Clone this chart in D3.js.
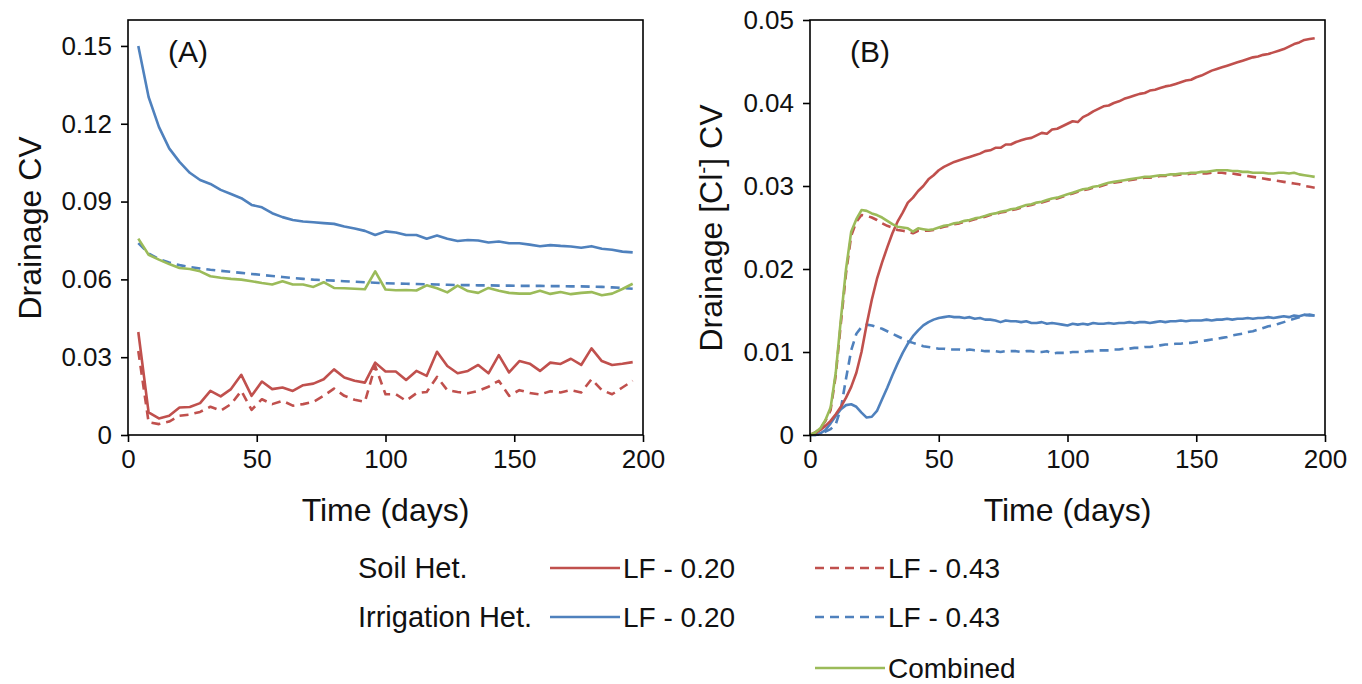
<!DOCTYPE html>
<html>
<head>
<meta charset="utf-8">
<script src="https://cdn.jsdelivr.net/npm/d3@7"></script>
<style>
  body { margin: 0; background: #fff; }
  svg { font-family: "Liberation Sans", Arial, sans-serif; }
</style>
</head>
<body>
<svg id="chart" width="1362" height="684"></svg>
<script>
// panel A: drainage CV, sampled every 4 days
const daysA = [4,8,12,16,20,24,28,32,36,40,44,48,52,56,60,64,68,72,76,80,84,88,92,96,100,
  104,108,112,116,120,124,128,132,136,140,144,148,152,156,160,164,168,172,176,180,184,188,192,196]

const soilA20 = [0.0397,0.0087,0.0064,0.0074,0.0106,0.0108,0.0123,0.0170,0.0149,0.0177,
  0.0232,0.0151,0.0206,0.0177,0.0183,0.0170,0.0192,0.0198,0.0215,0.0253,
  0.0222,0.0209,0.0202,0.0279,0.0245,0.0245,0.0212,0.0247,0.0228,0.0321,
  0.0266,0.0238,0.0247,0.0270,0.0238,0.0308,0.0241,0.0285,0.0275,0.0247,
  0.0279,0.0274,0.0294,0.0270,0.0334,0.0285,0.0270,0.0275,0.0281]
const soilA43 = [0.0324,0.0049,0.0042,0.0052,0.0074,0.0079,0.0089,0.0109,0.0094,0.0119,
  0.0170,0.0097,0.0138,0.0119,0.0132,0.0113,0.0119,0.0128,0.0151,0.0179,
  0.0151,0.0136,0.0128,0.0266,0.0157,0.0157,0.0132,0.0161,0.0166,0.0224,
  0.0173,0.0166,0.0161,0.0170,0.0186,0.0209,0.0151,0.0173,0.0162,0.0156,
  0.0169,0.0164,0.0173,0.0164,0.0215,0.0173,0.0157,0.0183,0.0209]
const irrA20 = [0.1500,0.1303,0.1188,0.1105,0.1053,0.1011,0.0983,0.0968,0.0945,0.0929,
  0.0913,0.0887,0.0878,0.0855,0.0840,0.0829,0.0823,0.0820,0.0817,0.0814,
  0.0804,0.0796,0.0787,0.0771,0.0785,0.0781,0.0771,0.0771,0.0757,0.0769,
  0.0757,0.0748,0.0752,0.0750,0.0742,0.0746,0.0739,0.0739,0.0734,0.0728,
  0.0732,0.0729,0.0727,0.0722,0.0728,0.0718,0.0714,0.0707,0.0704]
const irrA43 = [0.0740,0.0700,0.0678,0.0665,0.0655,0.0648,0.0642,0.0637,0.0633,0.0629,
  0.0625,0.0621,0.0617,0.0613,0.0609,0.0605,0.0602,0.0599,0.0597,0.0595,
  0.0593,0.0591,0.0589,0.0587,0.0585,0.0584,0.0583,0.0582,0.0581,0.0580,
  0.0579,0.0578,0.0578,0.0577,0.0577,0.0576,0.0576,0.0575,0.0575,0.0575,
  0.0574,0.0574,0.0573,0.0573,0.0572,0.0571,0.0569,0.0567,0.0564]
const combA = [0.0757,0.0695,0.0676,0.0659,0.0644,0.0640,0.0631,0.0612,0.0606,0.0602,
  0.0599,0.0593,0.0586,0.0580,0.0593,0.0580,0.0580,0.0571,0.0589,0.0567,
  0.0566,0.0564,0.0562,0.0631,0.0561,0.0558,0.0559,0.0557,0.0577,0.0566,
  0.0550,0.0576,0.0555,0.0548,0.0567,0.0556,0.0548,0.0545,0.0545,0.0556,
  0.0544,0.0551,0.0543,0.0548,0.0551,0.0539,0.0545,0.0563,0.0583]

// panel B: drainage [Cl-] CV, every 2 days
const daysB = [0,2,4,6,8,10,12,14,16,18,20,22,24,26,28,30,32,34,36,38,40,42,44,46,48,
  50,52,54,56,58,60,62,64,66,68,70,72,74,76,78,80,82,84,86,88,90,92,94,96,98,
  100,102,104,106,108,110,112,114,116,118,120,122,124,126,128,130,132,134,136,138,
  140,142,144,146,148,150,152,154,156,158,160,162,164,166,168,170,172,174,176,178,
  180,182,184,186,188,190,192,194,196]

const soilB20 = [0,0.0002,0.0006,0.0011,0.0017,0.0025,0.0034,0.0045,0.0058,0.0075,
  0.0100,0.0133,0.0163,0.0188,0.0208,0.0226,0.0243,0.0257,0.0268,0.0280,
  0.0286,0.0294,0.0300,0.0308,0.0313,0.0319,0.0323,0.0326,0.0329,0.0331,
  0.0333,0.0335,0.0337,0.0339,0.0342,0.0343,0.0346,0.0346,0.0350,0.0350,
  0.0353,0.0355,0.0357,0.0358,0.0361,0.0364,0.0363,0.0368,0.0369,0.0372,
  0.0375,0.0378,0.0377,0.0383,0.0386,0.0390,0.0393,0.0396,0.0397,0.0400,
  0.0402,0.0405,0.0407,0.0409,0.0411,0.0412,0.0415,0.0416,0.0418,0.0420,
  0.0421,0.0423,0.0425,0.0427,0.0428,0.0431,0.0433,0.0436,0.0439,0.0441,
  0.0443,0.0445,0.0447,0.0449,0.0451,0.0453,0.0455,0.0456,0.0458,0.0459,
  0.0461,0.0463,0.0465,0.0468,0.0471,0.0473,0.0476,0.0477,0.0478]
const soilB43 = [0,0.0003,0.0008,0.0017,0.0030,0.0072,0.0135,0.0195,0.0240,0.0257,
  0.0265,0.0264,0.0262,0.0259,0.0255,0.0252,0.0250,0.0247,0.0246,0.0245,
  0.0243,0.0246,0.0246,0.0246,0.0247,0.0249,0.0251,0.0252,0.0254,0.0255,
  0.0257,0.0258,0.0260,0.0261,0.0263,0.0265,0.0266,0.0268,0.0269,0.0271,
  0.0272,0.0274,0.0276,0.0277,0.0279,0.0280,0.0282,0.0284,0.0285,0.0287,
  0.0289,0.0291,0.0293,0.0295,0.0296,0.0298,0.0299,0.0301,0.0303,0.0304,
  0.0305,0.0306,0.0307,0.0308,0.0309,0.0310,0.0310,0.0311,0.0312,0.0312,
  0.0313,0.0313,0.0314,0.0314,0.0315,0.0315,0.0315,0.0315,0.0316,0.0316,
  0.0316,0.0315,0.0315,0.0314,0.0313,0.0312,0.0311,0.0310,0.0309,0.0308,
  0.0307,0.0306,0.0305,0.0304,0.0303,0.0302,0.0300,0.0299,0.0298]
const irrB20 = [0,0,0.0002,0.0006,0.0014,0.0023,0.0031,0.0036,0.0037,0.0034,
  0.0027,0.0021,0.0022,0.0029,0.0043,0.0057,0.0072,0.0086,0.0099,0.0110,
  0.0119,0.0126,0.0132,0.0136,0.0139,0.0141,0.0142,0.0143,0.0142,0.0142,
  0.0141,0.0142,0.0140,0.0141,0.0139,0.0139,0.0138,0.0136,0.0138,0.0137,
  0.0137,0.0136,0.0137,0.0135,0.0135,0.0136,0.0134,0.0135,0.0134,0.0133,
  0.0132,0.0134,0.0133,0.0134,0.0133,0.0135,0.0134,0.0134,0.0135,0.0134,
  0.0135,0.0135,0.0136,0.0135,0.0136,0.0136,0.0135,0.0136,0.0137,0.0136,
  0.0137,0.0137,0.0138,0.0137,0.0138,0.0138,0.0138,0.0139,0.0138,0.0139,
  0.0139,0.0140,0.0139,0.0140,0.0140,0.0141,0.0140,0.0141,0.0141,0.0142,
  0.0141,0.0142,0.0143,0.0142,0.0144,0.0143,0.0145,0.0144,0.0144]
const irrB43 = [0,0,0.0001,0.0004,0.0007,0.0013,0.0032,0.0068,0.0102,0.0122,
  0.0130,0.0133,0.0132,0.0130,0.0128,0.0125,0.0122,0.0119,0.0116,0.0113,
  0.0111,0.0109,0.0107,0.0106,0.0105,0.0104,0.0104,0.0103,0.0103,0.0103,
  0.0102,0.0103,0.0102,0.0102,0.0101,0.0101,0.0101,0.0100,0.0101,0.0101,
  0.0101,0.0100,0.0101,0.0101,0.0100,0.0100,0.0101,0.0098,0.0099,0.0099,
  0.0099,0.0100,0.0100,0.0100,0.0101,0.0101,0.0102,0.0102,0.0102,0.0103,
  0.0103,0.0104,0.0104,0.0105,0.0105,0.0106,0.0106,0.0107,0.0108,0.0109,
  0.0109,0.0110,0.0110,0.0111,0.0111,0.0112,0.0113,0.0114,0.0115,0.0116,
  0.0117,0.0118,0.0120,0.0121,0.0122,0.0124,0.0125,0.0127,0.0129,0.0131,
  0.0132,0.0134,0.0136,0.0138,0.0140,0.0142,0.0144,0.0145,0.0144]
const combB = [0,0.0003,0.0008,0.0018,0.0033,0.0075,0.0140,0.0200,0.0245,0.0260,
  0.0271,0.0270,0.0267,0.0265,0.0262,0.0258,0.0254,0.0251,0.0250,0.0249,
  0.0245,0.0249,0.0248,0.0247,0.0248,0.0250,0.0252,0.0253,0.0255,0.0256,
  0.0258,0.0259,0.0261,0.0262,0.0264,0.0266,0.0267,0.0269,0.0270,0.0272,
  0.0273,0.0275,0.0277,0.0278,0.0280,0.0281,0.0283,0.0285,0.0286,0.0288,
  0.0290,0.0292,0.0294,0.0296,0.0297,0.0299,0.0300,0.0302,0.0304,0.0305,
  0.0306,0.0307,0.0308,0.0309,0.0310,0.0311,0.0311,0.0312,0.0313,0.0313,
  0.0314,0.0314,0.0315,0.0315,0.0316,0.0316,0.0317,0.0317,0.0318,0.0319,
  0.0319,0.0319,0.0318,0.0318,0.0317,0.0317,0.0316,0.0316,0.0316,0.0315,
  0.0315,0.0316,0.0316,0.0315,0.0316,0.0314,0.0313,0.0312,0.0311]

const xTicks = [0,50,100,150,200]
const yTicksA = [0,0.03,0.06,0.09,0.12,0.15]
const yTicksB = [0,0.01,0.02,0.03,0.04,0.05]

const RED = "#C0504D", BLUE = "#4F81BD", GREEN = "#9BBB59"
const DASH = "9,6"

const svg = d3.select("#chart")
svg.append("rect").attr("width",1362).attr("height",684).attr("fill","#fff")

function drawPanel(p) {
  const x = d3.scaleLinear().domain([0,200]).range([p.left, p.right])
  const y = d3.scaleLinear().domain([0, p.ymax]).range([435, 20])
  const g = svg.append("g")

  // series
  p.series.forEach(s => {
    const line = d3.line().x((d,i) => x(p.days[i])).y(d => y(d))
    g.append("path")
      .datum(s.values)
      .attr("d", line)
      .attr("fill","none")
      .attr("stroke", s.color)
      .attr("stroke-width", 2.6)
      .attr("stroke-linejoin","round")
      .attr("stroke-dasharray", s.dashed ? DASH : null)
  })

  // frame
  g.append("rect")
    .attr("x", p.left).attr("y", 20)
    .attr("width", p.right - p.left).attr("height", 415)
    .attr("fill","none").attr("stroke","#000").attr("stroke-width",1.6)

  const ax = g.append("g").attr("transform","translate(0,435)")
    .call(d3.axisBottom(x).tickValues(xTicks).tickSize(7).tickPadding(8).tickFormat(d3.format("d")))
  const ay = g.append("g").attr("transform","translate("+p.left+",0)")
    .call(d3.axisLeft(y).tickValues(p.yTicks).tickSize(7).tickPadding(9).tickFormat(d => d === 0 ? "0" : d3.format(p.fmt)(d)))
  ;[ax, ay].forEach(a => {
    a.select(".domain").remove()
    a.selectAll("line").attr("stroke","#000").attr("stroke-width",1.6)
    a.selectAll("text").attr("font-size",26).attr("fill","#111")
      .style("font-family","'Liberation Sans', Arial, sans-serif")
  })

  g.append("text").attr("x", p.left + 40).attr("y", 62)
    .attr("font-size",30).attr("fill","#111").text(p.label)

  g.append("text")
    .attr("x", (p.left + p.right)/2).attr("y", 521)
    .attr("text-anchor","middle").attr("font-size",32).attr("fill","#111")
    .text("Time (days)")

  const yl = g.append("text")
    .attr("transform","translate("+p.ylabX+",228) rotate(-90)")
    .attr("text-anchor","middle").attr("font-size",32).attr("fill","#111")
  p.ylabel(yl)
}

drawPanel({
  left: 128, right: 643, ymax: 0.16, yTicks: yTicksA, fmt: ".2f", label: "(A)",
  days: daysA, ylabX: 41,
  ylabel: t => t.text("Drainage CV"),
  series: [
    {values: soilA20, color: RED},
    {values: soilA43, color: RED, dashed: true},
    {values: irrA20, color: BLUE},
    {values: irrA43, color: BLUE, dashed: true},
    {values: combA, color: GREEN}
  ]
})

drawPanel({
  left: 810, right: 1325, ymax: 0.05, yTicks: yTicksB, fmt: ".2f", label: "(B)",
  days: daysB, ylabX: 722,
  ylabel: t => {
    t.append("tspan").text("Drainage [Cl")
    t.append("tspan").attr("font-size",21).attr("dy",-12).text("-")
    t.append("tspan").attr("dy",12).text("] CV")
  },
  series: [
    {values: irrB43, color: BLUE, dashed: true},
    {values: irrB20, color: BLUE},
    {values: soilB20, color: RED},
    {values: soilB43, color: RED, dashed: true},
    {values: combB, color: GREEN}
  ]
})

// legend
const legendRows = [
  {label: "Soil Het.", y: 568, items: [{c: RED, dashed: false, t: "LF - 0.20"}, {c: RED, dashed: true, t: "LF - 0.43"}]},
  {label: "Irrigation Het.", y: 617, items: [{c: BLUE, dashed: false, t: "LF - 0.20"}, {c: BLUE, dashed: true, t: "LF - 0.43"}]},
  {label: "", y: 668, items: [null, {c: GREEN, dashed: false, t: "Combined"}]}
]
const itemX = [550, 815]
const leg = svg.append("g")
legendRows.forEach(r => {
  leg.append("text").attr("x",358).attr("y",r.y + 10).attr("font-size",29).attr("fill","#111").text(r.label)
  r.items.forEach((it, k) => {
    if (!it) return
    leg.append("line").attr("x1", itemX[k]).attr("x2", itemX[k] + 70)
      .attr("y1", r.y).attr("y2", r.y)
      .attr("stroke", it.c).attr("stroke-width", 2.6)
      .attr("stroke-dasharray", it.dashed ? DASH : null)
    leg.append("text").attr("x", itemX[k] + 73).attr("y", r.y + 10)
      .attr("font-size",28).attr("fill","#111").text(it.t)
  })
})
</script>
</body>
</html>
